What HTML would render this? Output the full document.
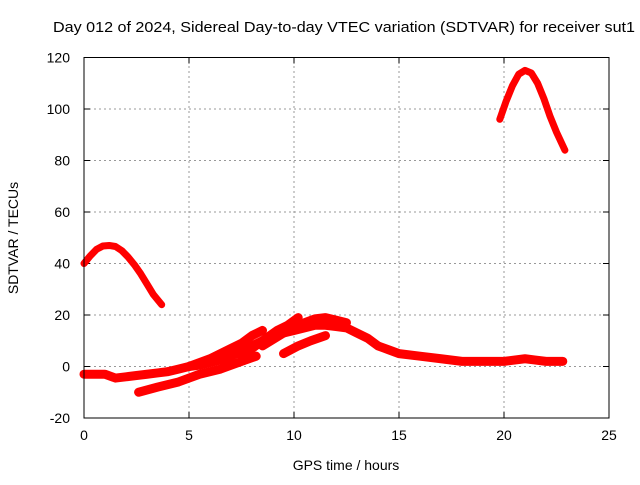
<!DOCTYPE html>
<html><head><meta charset="utf-8"><style>
body{margin:0;background:#fff}
svg text{font-family:"Liberation Sans",sans-serif;font-size:14px;fill:#000}
</style></head><body>
<svg id="chart" width="640" height="480" xmlns="http://www.w3.org/2000/svg">
<text x="53" y="32" textLength="582" lengthAdjust="spacingAndGlyphs" style="font-size:15px">Day 012 of 2024, Sidereal Day-to-day VTEC variation (SDTVAR) for receiver sut1</text>
<g id="grid"></g>
<g id="ticks"></g>
<g id="series"></g>
<rect x="84" y="57.5" width="525" height="360.5" fill="none" stroke="#000" stroke-width="1"/>
<text x="346" y="470" text-anchor="middle">GPS time / hours</text>
<text transform="translate(18,238) rotate(-90)" text-anchor="middle">SDTVAR / TECUs</text>
</svg>
<script>
const xTicks=[0,5,10,15,20,25];
const yTicks=[-20,0,20,40,60,80,100,120];
const trackA_t=[0,0.3,0.6,0.9,1.2,1.5,1.8,2.1,2.4,2.7,3.0,3.3,3.7];
const trackA_v=[40,43,45.5,46.8,47,46.6,45,42.5,39.5,36,32,28,24];
const trackB_t=[19.8,20.1,20.4,20.7,21.0,21.3,21.6,21.9,22.2,22.5,22.9];
const trackB_v=[96,103,109,113.5,115,114,110,104,97,91,84];
const trackC_t=[0,0.5,1,1.5,2,2.5,3,3.5,4,4.5,5,5.5,6,6.5,7,7.5,8,8.5,9,9.5,10,10.5,11,11.5,12,12.5,13,13.5,14,14.5,15,16,17,18,19,20,21,21.5,22,22.8];
const trackC_v=[-3,-3,-3,-4.5,-4,-3.5,-3,-2.5,-2,-1,0,0.5,1.5,2.5,4,6,8,10,12,13,14,15,16,16,15.5,15,13,11,8,6.5,5,4,3,2,2,2,3,2.5,2,2];
const trackD_t=[2.6,3.5,4.5,5.5,6.5,7.5,8.2];
const trackD_v=[-10,-8,-6,-3,-1,2,4];
const trackE_t=[5,6,7,7.5,8,8.5];
const trackE_v=[0,3,7,9,12,14];
const trackF_t=[7.5,8.5,9.2,9.7,10.2];
const trackF_v=[4,10,14,16,19];
const trackG_t=[8.5,9.5,10.5,11,11.5,12,12.5];
const trackG_v=[8,13,17,18.5,19,18,17];
const trackH_t=[9.5,10.2,10.8,11.5];
const trackH_v=[5,8,10,12];
const tracks=[[trackA_t,trackA_v],[trackB_t,trackB_v],[trackC_t,trackC_v],[trackD_t,trackD_v],[trackE_t,trackE_v],[trackF_t,trackF_v],[trackG_t,trackG_v],[trackH_t,trackH_v]];
const X0=84,X1=609,Y0=418,Y1=57.5;
const xs=t=>X0+(t-0)/(25-0)*(X1-X0);
const ys=v=>Y0-(v+20)/140*(Y0-Y1);
const NS="http://www.w3.org/2000/svg";
const grid=document.getElementById('grid'),ticks=document.getElementById('ticks'),ser=document.getElementById('series');
function mk(tag,attrs,parent){const e=document.createElementNS(NS,tag);for(const k in attrs)e.setAttribute(k,attrs[k]);parent.appendChild(e);return e;}
xTicks.forEach(t=>{const x=xs(t);
 if(t>0&&t<25){const g=mk('line',{x1:x,x2:x,y1:Y0,y2:Y1,stroke:'#999','stroke-dasharray':'2,3'},grid);
 
 }
 mk('line',{x1:x,x2:x,y1:Y0,y2:Y0-6,stroke:'#000'},ticks);
 mk('line',{x1:x,x2:x,y1:Y1,y2:Y1+6,stroke:'#000'},ticks);
 const l=mk('text',{x:x,y:Y0+22,'text-anchor':'middle'},ticks);l.textContent=t;
 
 
});
yTicks.forEach(v=>{const y=ys(v);
 if(v>-20&&v<120){const g=mk('line',{x1:X0,x2:X1,y1:y,y2:y,stroke:'#999','stroke-dasharray':'2,3'},grid);
 
 }
 mk('line',{x1:X0,x2:X0+6,y1:y,y2:y,stroke:'#000'},ticks);
 mk('line',{x1:X1,x2:X1-6,y1:y,y2:y,stroke:'#000'},ticks);
 const l=mk('text',{x:X0-14,y:y+5,'text-anchor':'end'},ticks);l.textContent=v;
 
 
});
tracks.forEach(([T,V],i)=>{
 const pts=T.map((t,j)=>xs(t)+','+ys(V[j])).join(' ');
 const p=mk('polyline',{points:pts,fill:'none',stroke:'#f00','stroke-width':i<2?7:9,'stroke-linejoin':'round','stroke-linecap':'round'},ser);
 
 
});
</script>
</body></html>
